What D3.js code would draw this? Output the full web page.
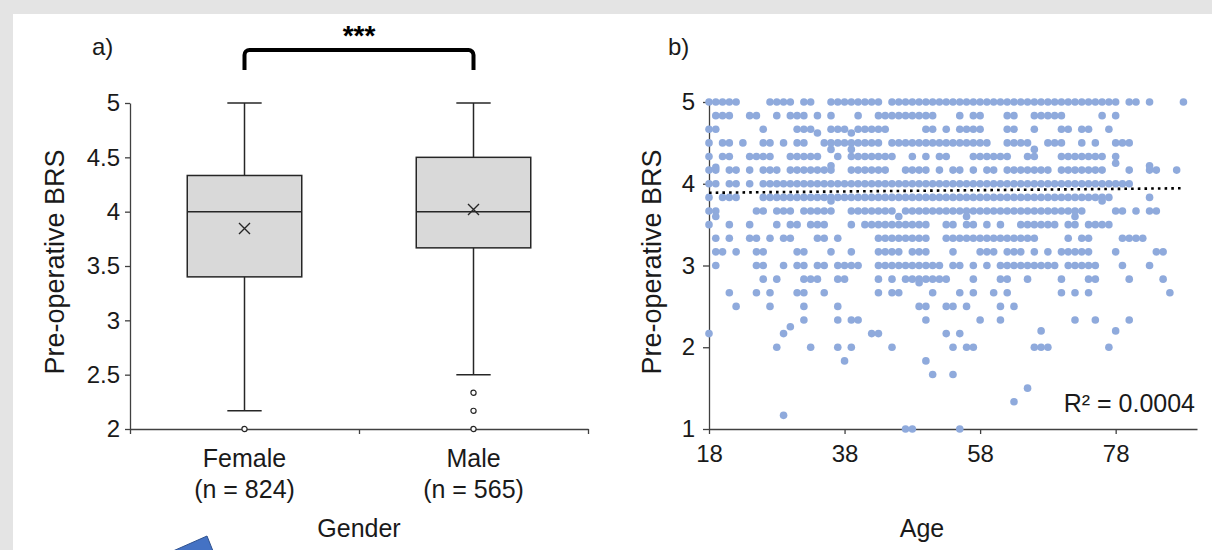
<!DOCTYPE html>
<html>
<head>
<meta charset="utf-8">
<script src="https://cdn.jsdelivr.net/npm/d3@7"></script>
<style>
  html, body { margin: 0; padding: 0; background: #e4e4e4; }
  svg { display: block; font-family: "Liberation Sans", Arial, sans-serif; }
</style>
</head>
<body>
<div id="chart"></div>
<script>
(function () {

  /**
   * Panel a) box plot by gender
   */
  const groups = ["Female", "Male"];
  const groupN = [824, 565];
  const q1 = [3.4, 3.667];
  const median = [4, 4];
  const q3 = [4.333, 4.5];
  const mean = [3.845, 4.02];
  const whiskerLow = [2.167, 2.5];
  const whiskerHigh = [5, 5];
  const outliers = [[2], [2.333, 2.167, 2]];
  const boxTicks = [2, 2.5, 3, 3.5, 4, 4.5, 5];

  /**
   * Panel b) BRS against age, one string of age runs per BRS level
   */
  const brsLevels = [5, 4.833, 4.667, 4.5, 4.333, 4.167, 4, 3.833, 3.667, 3.5, 3.333, 3.167, 3,
    2.833, 2.667, 2.5, 2.333, 2.167, 2, 1.833, 1.667, 1.5, 1.333, 1.167, 1];
  const ageRuns = [
    "18-22 27-30 32-33 36-43 45-78 80-81 83 88",
    "19-21 24-25 28 30-32 34 36 40 43-51 55 57-58 62-63 66-70 76 78",
    "18-19 26 31-33 36-38 40-44 50-51 53 55-58 62-63 66 70-71 73-74 77",
    "18 20-21 23 26-27 29 31-32 35-43 45-59 62-65 68-70 73 75 78-80",
    "18 20-21 24-27 30-34 37 39-45 48 50 52-53 57-62 65-66 70-76 78",
    "18-19 21-22 24 26-28 30-36 39-44 47-50 52 54-55 57 59-60 62-68 70-76 80 83-84 87",
    "18-19 21-22 24 26-80",
    "18 20-22 26-77 83",
    "18-19 25-26 28-30 32-36 39-45 47-73 78-79 81 83-84",
    "18 21 24 28 30-31 33-35 39 41-50 53-54 56-57 59 61 64-69 71-72 74-77",
    "19 21 24-25 27 29-30 34-35 37 43-50 53-66 71 73-74 79-82",
    "19-20 22 25-26 31-32 36 39 43-46 48-50 54 58-60 62-64 66 68 70-74 78 84-85",
    "19 25-26 29 31-32 34-35 37-40 43-52 54-55 57 59 61-69 71-75 79 83",
    "26 28 32-34 37-38 43 45 47-53 57 61-62 65 70 74-75 80 85",
    "21 25 27 31-32 35 43 45-46 51 55 57 60 62 70 72 74 86",
    "22 27 32 37 49-50 53-54 56 61 63",
    "32 37 39-40 50 58 61 72 75 80",
    "18 29 42-43 53 55",
    "28 33 37 39 45 54 56-57 66-68 77",
    "38 50",
    "51 54",
    "65",
    "63",
    "29",
    "47-48 55"
  ];
  // points that sit between the sixth-steps
  const offGridAge = [34, 39, 36, 39, 66, 78, 83, 19, 36, 36, 76, 19, 46, 56, 72, 49, 30, 67, 78];
  const offGridBrs = [4.62, 4.62, 4.42, 4.42, 4.42, 4.25, 4.22, 4.2, 4.22, 3.79, 3.79, 3.6, 3.6, 3.6, 3.6, 2.79, 2.25, 2.2, 2.2];
  const ageTicks = [18, 38, 58, 78];
  const brsTicks = [1, 2, 3, 4, 5];
  const trendAge = [18, 88];
  const trendBrs = [3.89, 3.945];
  const rSquared = "R² = 0.0004";

  const width = 1212;
  const height = 550;
  const font = '"Liberation Sans", Arial, sans-serif';
  const ink = "#1a1a1a";

  const svg = d3.select("#chart")
    .append("svg")
    .attr("width", width)
    .attr("height", height);

  svg.append("rect")
    .attr("x", 13)
    .attr("y", 14)
    .attr("width", width - 13)
    .attr("height", height - 14)
    .attr("fill", "#ffffff");

  // ---------- panel a ----------
  const xL = d3.scaleBand().domain(groups).range([130, 588]);
  const xEdge = d3.scaleLinear().domain([0, groups.length]).range([130, 588]);
  const yL = d3.scaleLinear().domain([2, 5]).range([429, 103]);
  const boxW = xL.bandwidth() * 0.5;
  const capW = xL.bandwidth() * 0.15;

  const yAxisL = svg.append("g")
    .attr("transform", "translate(130,0)")
    .call(d3.axisLeft(yL).tickValues(boxTicks).tickSize(5).tickSizeOuter(0).tickPadding(5)
      .tickFormat(d3.format("")));
  const xAxisL = svg.append("g")
    .attr("transform", "translate(0,429)")
    .call(d3.axisBottom(xEdge).tickValues([0, 1, 2]).tickSize(5).tickSizeOuter(0).tickFormat(""));

  [yAxisL, xAxisL].forEach(function (g) {
    g.selectAll("path, line").attr("stroke", "#404040").attr("stroke-width", 1.3);
    g.selectAll("text").attr("fill", ink).style("font-size", "24px").style("font-family", font);
  });

  const box = svg.selectAll(".box")
    .data(groups)
    .enter().append("g")
    .attr("class", "box")
    .attr("transform", function (d) {
      return "translate(" + (xL(d) + xL.bandwidth() / 2) + ",0)";
    });

  box.append("line")
    .attr("y1", function (d, i) { return yL(whiskerHigh[i]); })
    .attr("y2", function (d, i) { return yL(q3[i]); })
    .attr("stroke", "#262626").attr("stroke-width", 1.5);
  box.append("line")
    .attr("y1", function (d, i) { return yL(q1[i]); })
    .attr("y2", function (d, i) { return yL(whiskerLow[i]); })
    .attr("stroke", "#262626").attr("stroke-width", 1.5);
  box.append("line")
    .attr("x1", -capW / 2).attr("x2", capW / 2)
    .attr("y1", function (d, i) { return yL(whiskerHigh[i]); })
    .attr("y2", function (d, i) { return yL(whiskerHigh[i]); })
    .attr("stroke", "#262626").attr("stroke-width", 1.5);
  box.append("line")
    .attr("x1", -capW / 2).attr("x2", capW / 2)
    .attr("y1", function (d, i) { return yL(whiskerLow[i]); })
    .attr("y2", function (d, i) { return yL(whiskerLow[i]); })
    .attr("stroke", "#262626").attr("stroke-width", 1.5);
  box.append("rect")
    .attr("x", -boxW / 2)
    .attr("width", boxW)
    .attr("y", function (d, i) { return yL(q3[i]); })
    .attr("height", function (d, i) { return yL(q1[i]) - yL(q3[i]); })
    .attr("fill", "#d9d9d9")
    .attr("stroke", "#262626").attr("stroke-width", 1.5);
  box.append("line")
    .attr("x1", -boxW / 2).attr("x2", boxW / 2)
    .attr("y1", function (d, i) { return yL(median[i]); })
    .attr("y2", function (d, i) { return yL(median[i]); })
    .attr("stroke", "#262626").attr("stroke-width", 1.5);

  // mean cross
  box.append("path")
    .attr("d", function (d, i) {
      const y = yL(mean[i]);
      return "M-5.5," + (y - 5.5) + "L5.5," + (y + 5.5) + "M-5.5," + (y + 5.5) + "L5.5," + (y - 5.5);
    })
    .attr("stroke", "#262626").attr("stroke-width", 1.4).attr("fill", "none");

  box.selectAll(".outlier")
    .data(function (d, i) { return outliers[i]; })
    .enter().append("circle")
    .attr("class", "outlier")
    .attr("cy", function (d) { return yL(d); })
    .attr("r", 2.6)
    .attr("fill", "#ffffff")
    .attr("stroke", "#262626").attr("stroke-width", 1.2);

  box.append("text")
    .attr("y", 467)
    .attr("text-anchor", "middle")
    .style("font-size", "25px").attr("fill", ink)
    .text(function (d) { return d; });
  box.append("text")
    .attr("y", 498)
    .attr("text-anchor", "middle")
    .style("font-size", "25px").attr("fill", ink)
    .text(function (d, i) { return "(n = " + groupN[i] + ")"; });

  svg.append("text")
    .attr("x", 359).attr("y", 537)
    .attr("text-anchor", "middle")
    .style("font-size", "25px").attr("fill", ink)
    .text("Gender");

  svg.append("text")
    .attr("transform", "translate(64,262) rotate(-90)")
    .attr("text-anchor", "middle")
    .style("font-size", "27px").attr("fill", ink)
    .text("Pre-operative BRS");

  svg.append("text")
    .attr("x", 92).attr("y", 55)
    .style("font-size", "24px").attr("fill", ink)
    .text("a)");

  // significance bracket
  const bx1 = xL(groups[0]) + xL.bandwidth() / 2;
  const bx2 = xL(groups[1]) + xL.bandwidth() / 2;
  const bTop = 50, bFoot = 70, rad = 5;
  const bp = d3.path();
  bp.moveTo(bx1, bFoot);
  bp.arcTo(bx1, bTop, bx1 + rad, bTop, rad);
  bp.arcTo(bx2, bTop, bx2, bTop + rad, rad);
  bp.lineTo(bx2, bFoot);
  svg.append("path")
    .attr("d", bp.toString())
    .attr("fill", "none")
    .attr("stroke", "#000").attr("stroke-width", 4);
  svg.append("text")
    .attr("x", (bx1 + bx2) / 2).attr("y", 45)
    .attr("text-anchor", "middle")
    .style("font-size", "28px").style("font-weight", "bold").attr("fill", "#000")
    .text("***");

  // ---------- panel b ----------
  const xR = d3.scaleLinear().domain([18, 90]).range([709, 1197]);
  const yR = d3.scaleLinear().domain([1, 5]).range([429, 102]);

  const points = [];
  brsLevels.forEach(function (level, i) {
    ageRuns[i].split(" ").forEach(function (run) {
      const ends = run.split("-").map(Number);
      const last = ends.length > 1 ? ends[1] : ends[0];
      for (let a = ends[0]; a <= last; a++) points.push({age: a, brs: level});
    });
  });
  offGridAge.forEach(function (a, i) {
    points.push({age: a, brs: offGridBrs[i]});
  });

  const yAxisR = svg.append("g")
    .attr("transform", "translate(709,0)")
    .call(d3.axisLeft(yR).tickValues(brsTicks).tickSize(6).tickSizeOuter(0).tickPadding(8)
      .tickFormat(d3.format("d")));
  const xAxisR = svg.append("g")
    .attr("transform", "translate(0,429)")
    .call(d3.axisBottom(xR).tickValues(ageTicks).tickSize(5).tickSizeOuter(0).tickPadding(11));

  [yAxisR, xAxisR].forEach(function (g) {
    g.selectAll("path, line").attr("stroke", "#404040").attr("stroke-width", 1.3);
    g.selectAll("text").attr("fill", ink).style("font-size", "24px").style("font-family", font);
  });

  svg.append("g")
    .selectAll("circle")
    .data(points)
    .enter().append("circle")
    .attr("cx", function (d) { return xR(d.age); })
    .attr("cy", function (d) { return yR(d.brs); })
    .attr("r", 3.8)
    .attr("fill", "#8faadc");

  svg.append("line")
    .attr("x1", xR(trendAge[0])).attr("y1", yR(trendBrs[0]))
    .attr("x2", xR(trendAge[1])).attr("y2", yR(trendBrs[1]))
    .attr("stroke", "#000").attr("stroke-width", 2.6)
    .attr("stroke-dasharray", "2.6,4.1");

  svg.append("text")
    .attr("x", 1195).attr("y", 412)
    .attr("text-anchor", "end")
    .style("font-size", "25px").attr("fill", ink)
    .text(rSquared);

  svg.append("text")
    .attr("x", 922).attr("y", 537)
    .attr("text-anchor", "middle")
    .style("font-size", "25px").attr("fill", ink)
    .text("Age");

  svg.append("text")
    .attr("transform", "translate(661,262) rotate(-90)")
    .attr("text-anchor", "middle")
    .style("font-size", "27px").attr("fill", ink)
    .text("Pre-operative BRS");

  svg.append("text")
    .attr("x", 668).attr("y", 55)
    .style("font-size", "24px").attr("fill", ink)
    .text("b)");

  // corner of the slide arrow peeking in at the bottom
  svg.append("polygon")
    .attr("points", "173,551 207,536 213,551")
    .attr("fill", "#4472c4")
    .attr("stroke", "#2f528f").attr("stroke-width", 1);

})();
</script>
</body>
</html>
